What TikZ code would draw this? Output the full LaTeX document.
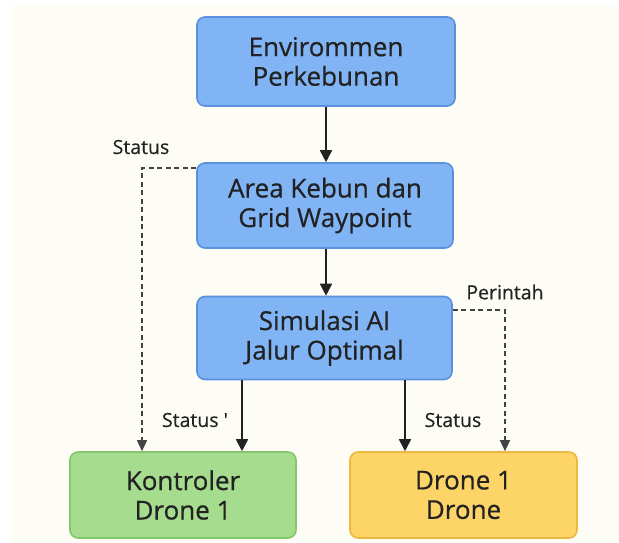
\documentclass[tikz,border=0pt]{standalone}
\usepackage{fontspec}
\setmainfont{Open Sans}
\newfontfamily\boxfont[FakeBold=0.6]{Open Sans}
\newfontfamily\lblfont[FakeBold=0.3]{Open Sans}
\usetikzlibrary{arrows.meta}
\definecolor{bgcream}{HTML}{FDFCF5}
\definecolor{bluefill}{HTML}{80B4F4}
\definecolor{blueline}{HTML}{5A90DC}
\definecolor{greenfill}{HTML}{A6DC8E}
\definecolor{greenline}{HTML}{84C66C}
\definecolor{yellowfill}{HTML}{FDD468}
\definecolor{yellowline}{HTML}{EDB840}
\definecolor{ink}{HTML}{222222}
\tikzset{
  box/.style={draw, line width=1.6pt, rounded corners=8pt, align=center, text=ink,
    font=\boxfont\fontsize{26}{29.5}\selectfont, inner sep=0pt},
  bluebox/.style={box, fill=bluefill, draw=blueline},
  greenbox/.style={box, fill=greenfill, draw=greenline},
  yellowbox/.style={box, fill=yellowfill, draw=yellowline},
  solidarrow/.style={draw=ink, line width=1.7pt, -{Triangle[length=12pt,width=12pt]}},
  dasharrow/.style={draw=ink!85, line width=1.3pt, dash pattern=on 5pt off 3.5pt, -{Triangle[length=11pt,width=10pt]}},
  lbl/.style={text=ink, font=\lblfont\fontsize{19.5}{22}\selectfont, inner sep=0pt}
}
\begin{document}
\begin{tikzpicture}[x=1pt,y=-1pt]
\fill[white] (0,0) rectangle (619,542);
\fill[bgcream] (11,6) rectangle (619,542);
\useasboundingbox (0,0) rectangle (619,542);

\node[bluebox, minimum width=258pt, minimum height=89pt] (env) at (326,61.5) {Envirommen\\Perkebunan};
\node[bluebox, minimum width=256pt, minimum height=85pt] (area) at (325,205.5) {Area Kebun dan\\Grid Waypoint};
\node[bluebox, minimum width=255pt, minimum height=83pt] (sim) at (324.5,338) {Simulasi AI\\Jalur Optimal};
\node[greenbox, minimum width=226pt, minimum height=86pt] (kon) at (183,495) {Kontroler\\Drone 1};
\node[yellowbox, minimum width=227pt, minimum height=86pt] (drone) at (463.5,495) {Drone 1\\Drone};

\coordinate (stL) at (142,168);
\coordinate (stR) at (505,310);

\draw[solidarrow] (env.south -| 326,0) -- (area.north -| 326,0);
\draw[solidarrow] (area.south -| 326,0) -- (sim.north -| 326,0);
\draw[solidarrow] (sim.south -| 242,0) -- (kon.north -| 242,0);
\draw[solidarrow] (sim.south -| 405,0) -- (drone.north -| 405,0);

\draw[dasharrow] (area.west |- stL) -- (stL) -- (kon.north -| stL);
\draw[dasharrow] (sim.east |- stR) -- (stR) -- (drone.north -| stR);

\node[lbl] (l1) at (141,147) {Status};
\node[lbl] (l2) at (505,292) {Perintah};
\node[lbl] (l3) at (195,420) {Status '};
\node[lbl] (l4) at (453,420) {Status};
\end{tikzpicture}
\end{document}
